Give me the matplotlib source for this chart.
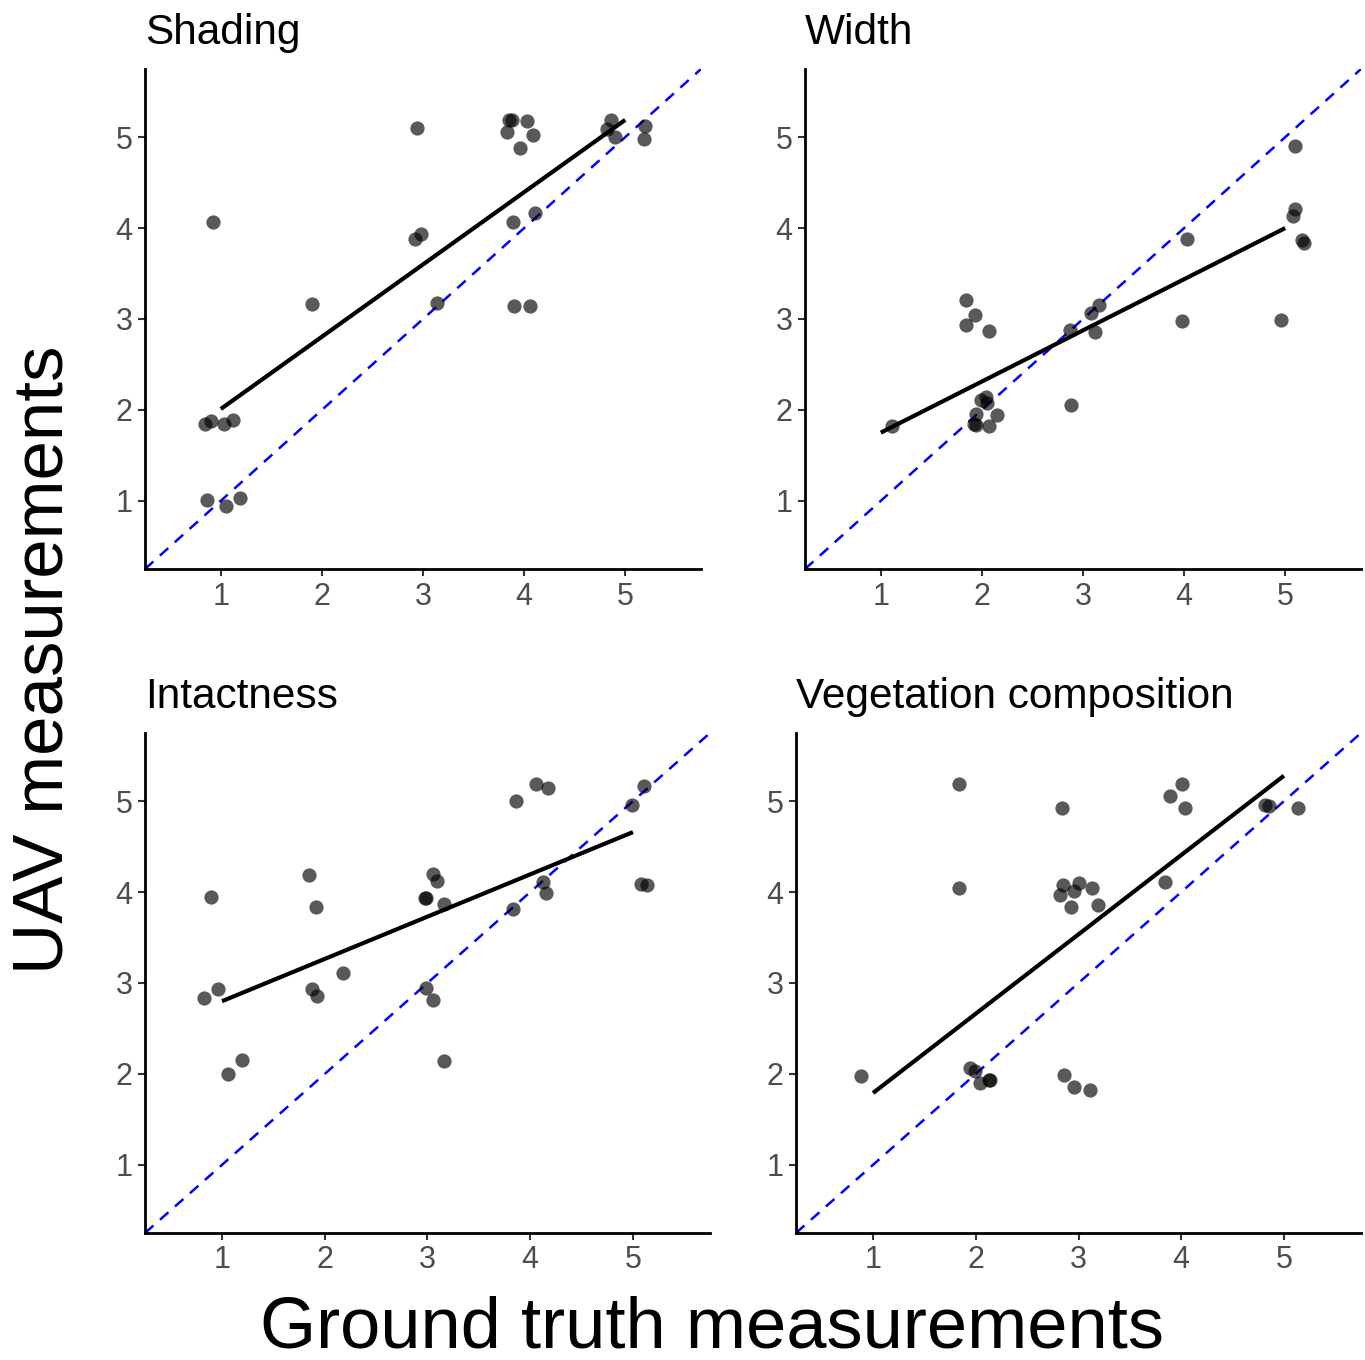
import numpy as np
import matplotlib
matplotlib.use('Agg')
import matplotlib.pyplot as plt

plt.rcParams['font.family'] = ['Liberation Sans', 'DejaVu Sans']

# jittered points (ground truth x, UAV y)
shading_x = [3.85, 3.88, 4.03, 3.83, 4.09, 3.96, 2.94, 4.86, 4.82, 4.90, 5.20, 5.19,
             0.92, 2.92, 2.98, 3.89, 4.11, 1.90, 3.14, 3.90, 4.06,
             0.84, 0.90, 1.03, 1.12, 0.86, 1.05, 1.19]
shading_y = [5.19, 5.19, 5.18, 5.06, 5.02, 4.88, 5.10, 5.19, 5.09, 5.00, 5.12, 4.98,
             4.07, 3.88, 3.94, 4.07, 4.17, 3.16, 3.18, 3.14, 3.14,
             1.85, 1.88, 1.85, 1.89, 1.01, 0.94, 1.03]

width_x = [5.10, 5.10, 5.08, 5.17, 5.19, 4.03, 3.98, 4.96, 1.84, 1.93, 1.84, 2.07,
           2.87, 3.08, 3.16, 3.12, 2.88, 1.11, 1.99, 2.04, 2.05, 1.94, 1.92, 1.94,
           2.07, 2.15]
width_y = [4.90, 4.21, 4.13, 3.87, 3.84, 3.88, 2.98, 2.99, 3.21, 3.04, 2.93, 2.87,
           2.88, 3.07, 3.15, 2.86, 2.05, 1.82, 2.11, 2.14, 2.08, 1.95, 1.85, 1.83,
           1.82, 1.94]

intact_x = [4.06, 4.17, 3.86, 5.11, 4.99, 5.08, 5.14, 4.12, 4.15, 3.83, 3.05, 3.09,
            2.98, 2.99, 3.16, 1.85, 1.91, 0.89, 0.82, 0.96, 1.88, 1.92, 2.18, 2.99,
            3.05, 3.16, 1.06, 1.19]
intact_y = [5.19, 5.15, 5.00, 5.17, 4.96, 4.09, 4.08, 4.11, 3.99, 3.81, 4.20, 4.12,
            3.94, 3.94, 3.87, 4.19, 3.84, 3.95, 2.83, 2.93, 2.93, 2.86, 3.11, 2.94,
            2.81, 2.14, 2.00, 2.15]

veg_x = [1.84, 1.84, 2.84, 4.01, 3.89, 4.04, 4.82, 4.85, 5.14, 3.84, 2.85, 3.00,
         2.82, 2.96, 3.13, 2.93, 3.19, 0.88, 1.94, 1.99, 2.04, 2.13, 2.14, 2.86,
         2.96, 3.11]
veg_y = [5.19, 4.04, 4.92, 5.19, 5.06, 4.93, 4.96, 4.95, 4.92, 4.11, 4.08, 4.10,
         3.97, 4.01, 4.04, 3.84, 3.86, 1.98, 2.07, 2.03, 1.90, 1.93, 1.93, 1.99,
         1.86, 1.82]

# fitted lm lines, value at x=1 and x=5
fit_x = [1, 5]
fit_shading = [2.01, 5.19]
fit_width = [1.75, 4.00]
fit_intact = [2.80, 4.66]
fit_veg = [1.79, 5.28]

titles = ['Shading', 'Width', 'Intactness', 'Vegetation composition']
xs = [shading_x, width_x, intact_x, veg_x]
ys = [shading_y, width_y, intact_y, veg_y]
fits = [fit_shading, fit_width, fit_intact, fit_veg]
ticks = [1, 2, 3, 4, 5]

fig = plt.figure(figsize=(13.65, 13.6), dpi=100)
W, H = 1365., 1360.
# panel boxes in pixels: left, top, right, bottom
boxes = [(145, 69, 701, 569), (805, 69, 1361, 569),
         (145, 733, 710, 1233), (796, 733, 1361, 1233)]

for i in range(4):
    l, t, r, b = boxes[i]
    ax = fig.add_axes([l / W, 1 - b / H, (r - l) / W, (b - t) / H])
    ax.scatter(xs[i], ys[i], s=105, color='black', alpha=0.65, linewidths=0, zorder=3)
    ax.plot(fit_x, fits[i], color='black', lw=3, solid_capstyle='butt', zorder=4)
    ax.axline((0, 0), slope=1, color='blue', lw=1.8, ls=(0, (4.5, 3.5)), zorder=2)
    ax.set_xlim(0.25, 5.75)
    ax.set_ylim(0.25, 5.75)
    ax.set_xticks(ticks)
    ax.set_yticks(ticks)
    ax.tick_params(labelsize=22, labelcolor='#4d4d4d', color='#333333',
                   length=5, width=1.5, pad=4)
    for s in ['top', 'right']:
        ax.spines[s].set_visible(False)
    for s in ['left', 'bottom']:
        ax.spines[s].set_linewidth(2)
    ax.text(0, 1.05, titles[i], transform=ax.transAxes, fontsize=30.5,
            ha='left', va='baseline')

fig.text(45 / W, 1 - 660 / H, 'UAV measurements', rotation=90, fontsize=51,
         ha='center', va='center')
fig.text(712 / W, 1 - 1347 / H, 'Ground truth measurements', fontsize=52,
         ha='center', va='baseline')

fig.savefig('out.png', dpi=100)
